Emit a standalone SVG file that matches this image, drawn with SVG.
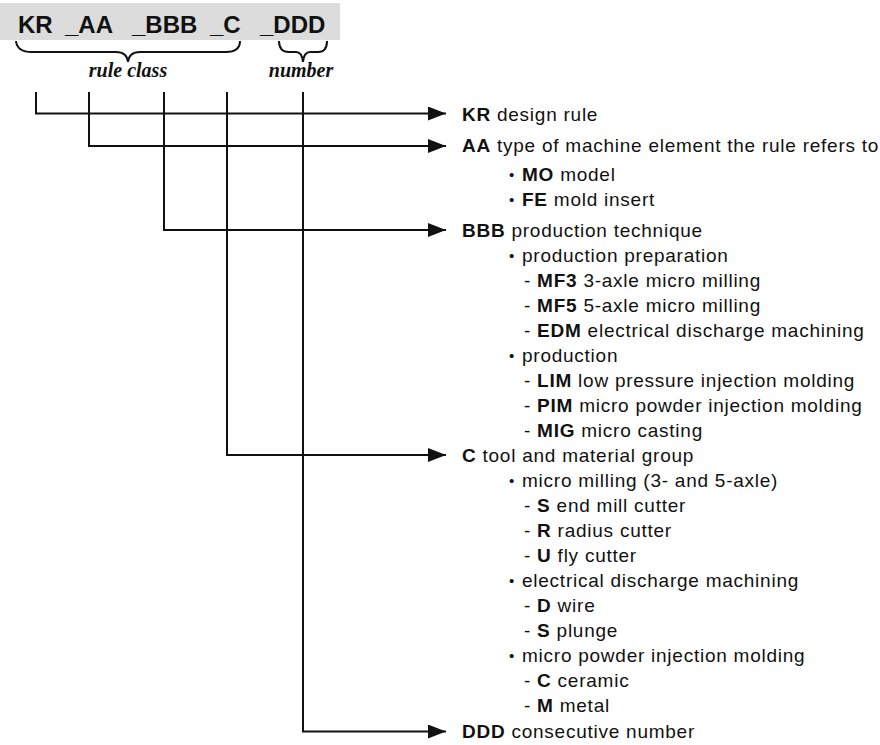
<svg xmlns="http://www.w3.org/2000/svg" width="880" height="745" viewBox="0 0 880 745">
<style>
.t{font-family:"Liberation Sans",Arial,sans-serif;font-size:19px;letter-spacing:0.75px;fill:#111}
.b{font-weight:bold}
.u{font-family:"Liberation Sans",Arial,sans-serif;font-size:15px;fill:#111}
.h{font-family:"Liberation Sans",Arial,sans-serif;font-size:24px;font-weight:bold;fill:#111}
.lab{font-family:"Liberation Serif","Times New Roman",serif;font-size:20px;font-weight:bold;font-style:italic;fill:#111;text-anchor:middle}
.c{fill:none;stroke:#111;stroke-width:2}
</style>
<defs>
<marker id="ah" markerUnits="userSpaceOnUse" markerWidth="18" markerHeight="14" refX="18" refY="7" orient="auto">
<path d="M0,0 L18,7 L0,14 z" fill="#111"/>
</marker>
</defs>
<rect width="880" height="745" fill="#fff"/>
<g id="code">
<rect x="0" y="3" width="340" height="37" fill="#dcdcdc"/>
<text class="h" x="18" y="33">KR</text>
<text class="h" x="65" y="33">_AA</text>
<text class="h" x="132" y="33">_BBB</text>
<text class="h" x="210" y="33">_C</text>
<text class="h" x="260" y="33">_DDD</text>
</g>
<g id="braces">
<path class="c" d="M16,41 Q17,52 32,52 L116,52 Q127,52 128,62 Q129,52 140,52 L226,52 Q240,52 240,41"/>
<path class="c" d="M279,41 Q279,52 289,52 L296,52 Q302,52 303,62 Q304,52 310,52 L318,52 Q327,52 327,41"/>
<text class="lab" x="128" y="77">rule class</text>
<text class="lab" x="301" y="77">number</text>
</g>
<g id="connectors">
<path class="c" d="M36,92 V113.5 H446" marker-end="url(#ah)"/>
<path class="c" d="M89,92 V146 H446" marker-end="url(#ah)"/>
<path class="c" d="M164,92 V230 H446" marker-end="url(#ah)"/>
<path class="c" d="M227,92 V455 H446" marker-end="url(#ah)"/>
<path class="c" d="M303,92 V731.5 H446" marker-end="url(#ah)"/>
</g>
<g id="kr">
<text class="t" x="462" y="121"><tspan class="b">KR</tspan> design rule</text>
</g>
<g id="aa">
<text class="t" x="462" y="152"><tspan class="b">AA</tspan> type of machine element the rule refers to</text>
<text class="u" x="509" y="180">•</text><text class="t" x="522" y="181"><tspan class="b">MO</tspan> model</text>
<text class="u" x="509" y="205">•</text><text class="t" x="522" y="206"><tspan class="b">FE</tspan> mold insert</text>
</g>
<g id="bbb">
<text class="t" x="462" y="237"><tspan class="b">BBB</tspan> production technique</text>
<text class="u" x="509" y="261">•</text><text class="t" x="522" y="262">production preparation</text>
<text class="t" x="524" y="287">- <tspan class="b">MF3</tspan> 3-axle micro milling</text>
<text class="t" x="524" y="312">- <tspan class="b">MF5</tspan> 5-axle micro milling</text>
<text class="t" x="524" y="337">- <tspan class="b">EDM</tspan> electrical discharge machining</text>
<text class="u" x="509" y="361">•</text><text class="t" x="522" y="362">production</text>
<text class="t" x="524" y="387">- <tspan class="b">LIM</tspan> low pressure injection molding</text>
<text class="t" x="524" y="412">- <tspan class="b">PIM</tspan> micro powder injection molding</text>
<text class="t" x="524" y="437">- <tspan class="b">MIG</tspan> micro casting</text>
</g>
<g id="c">
<text class="t" x="462" y="462"><tspan class="b">C</tspan> tool and material group</text>
<text class="u" x="509" y="486">•</text><text class="t" x="522" y="487">micro milling (3- and 5-axle)</text>
<text class="t" x="524" y="512">- <tspan class="b">S</tspan> end mill cutter</text>
<text class="t" x="524" y="537">- <tspan class="b">R</tspan> radius cutter</text>
<text class="t" x="524" y="562">- <tspan class="b">U</tspan> fly cutter</text>
<text class="u" x="509" y="586">•</text><text class="t" x="522" y="587">electrical discharge machining</text>
<text class="t" x="524" y="612">- <tspan class="b">D</tspan> wire</text>
<text class="t" x="524" y="637">- <tspan class="b">S</tspan> plunge</text>
<text class="u" x="509" y="661">•</text><text class="t" x="522" y="662">micro powder injection molding</text>
<text class="t" x="524" y="687">- <tspan class="b">C</tspan> ceramic</text>
<text class="t" x="524" y="712">- <tspan class="b">M</tspan> metal</text>
</g>
<g id="ddd">
<text class="t" x="462" y="738"><tspan class="b">DDD</tspan> consecutive number</text>
</g>
</svg>
